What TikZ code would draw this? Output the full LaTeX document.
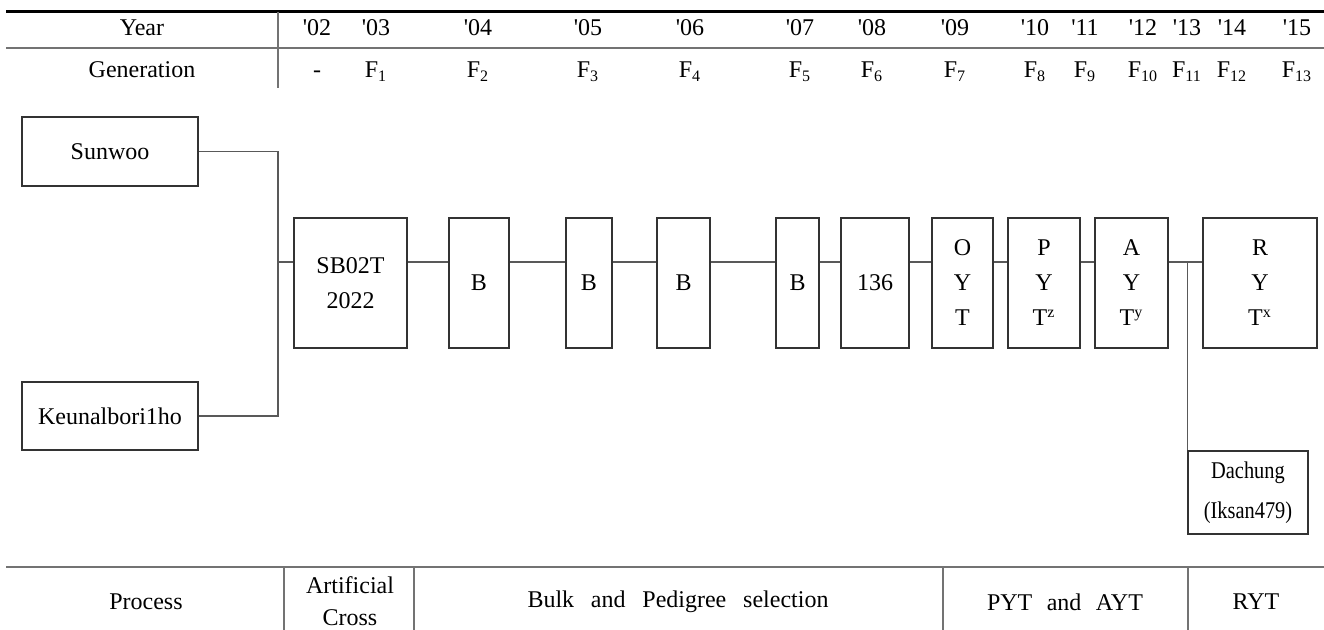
\documentclass[tikz,border=0pt]{standalone}
\usepackage{fontspec}
\usepackage{graphicx}
\setmainfont{Liberation Serif}
\usetikzlibrary{calc}
\tikzset{
  box/.style={draw=black!80, line width=0.6pt, inner sep=0pt, align=center,
    font=\fontsize{12}{17.5}\selectfont},
  link/.style={draw=black!65, line width=0.6pt},
  rule/.style={draw=black!55, line width=0.7pt},
  txt/.style={inner sep=0pt, align=center, font=\fontsize{12}{17.5}\selectfont},
}
\newcommand{\narrow}[1]{\scalebox{0.85}[1]{#1}}
\newcommand{\yr}[1]{\textquotesingle#1}
\begin{document}
\begin{tikzpicture}[x=0.5pt, y=-0.5pt]
\useasboundingbox (0,0) rectangle (1324,630);

% ---- header table ----
\draw[line width=1.5pt] (6,12) -- (1324,12);
\draw[rule] (6,48) -- (1324,48);
\draw[rule] (278,12) -- (278,88);
\node[txt, anchor=base] (hyear) at (142,36) {Year};
\node[txt, anchor=base] (hgen) at (142,78) {Generation};
\foreach \n/\x/\y/\g in {a/317/02/-, b/376/03/F\textsubscript{1}, c/478/04/F\textsubscript{2},
  d/588/05/F\textsubscript{3}, e/690/06/F\textsubscript{4}, f/800/07/F\textsubscript{5},
  g/872/08/F\textsubscript{6}, h/955/09/F\textsubscript{7}, i/1035/10/F\textsubscript{8},
  j/1085/11/F\textsubscript{9}, k/1143/12/F\textsubscript{10}, l/1187/13/F\textsubscript{11},
  m/1232/14/F\textsubscript{12}, o/1297/15/F\textsubscript{13}}{
  \node[txt, anchor=base] (y\n) at (\x,36) {\yr{\y}};
  \node[txt, anchor=base] (g\n) at (\x,78) {\g};
}

% ---- parents ----
\node[box, minimum width=88pt, minimum height=34.5pt] (sun) at (110,151.5) {Sunwoo};
\node[box, minimum width=88pt, minimum height=34pt] (keu) at (110,416) {Keunalbori1ho};

% ---- selection line ----
\node[box, minimum width=56.5pt, minimum height=65pt] (sb) at (350.5,283) {SB02T\\2022};
\node[box, minimum width=30pt, minimum height=65pt] (b1) at (479,283) {B};
\node[box, minimum width=23pt, minimum height=65pt] (b2) at (589,283) {B};
\node[box, minimum width=26.5pt, minimum height=65pt] (b3) at (683.5,283) {B};
\node[box, minimum width=21.5pt, minimum height=65pt] (b4) at (797.5,283) {B};
\node[box, minimum width=34pt, minimum height=65pt] (n136) at (875,283) {136};
\node[box, minimum width=30.5pt, minimum height=65pt] (oyt) at (962.5,283) {O\\Y\\T};
\node[box, minimum width=36pt, minimum height=65pt] (pyt) at (1044,283) {P\\Y\\T\textsuperscript{z}};
\node[box, minimum width=36.5pt, minimum height=65pt] (ayt) at (1131.5,283) {A\\Y\\T\textsuperscript{y}};
\node[box, minimum width=57pt, minimum height=65pt] (ryt) at (1260,283) {R\\Y\\T\textsuperscript{x}};
\node[box, minimum width=60pt, minimum height=41.5pt, font=\fontsize{12}{20}\selectfont]
  (dach) at (1248,492.5) {\raisebox{-2pt}{\narrow{Dachung}}\\\raisebox{-2pt}{\narrow{(Iksan479)}}};

% ---- connectors ----
\coordinate (jx) at (278,0);
\coordinate (jy) at (0,262);
\draw[link] (sun.east) -- (sun.east -| jx) -- (keu.east -| jx) -- (keu.east);
\draw[link] (jx |- jy) -- (sb.west |- jy);
\draw[link] (sb.east |- jy) -- (b1.west |- jy);
\draw[link] (b1.east |- jy) -- (b2.west |- jy);
\draw[link] (b2.east |- jy) -- (b3.west |- jy);
\draw[link] (b3.east |- jy) -- (b4.west |- jy);
\draw[link] (b4.east |- jy) -- (n136.west |- jy);
\draw[link] (n136.east |- jy) -- (oyt.west |- jy);
\draw[link] (oyt.east |- jy) -- (pyt.west |- jy);
\draw[link] (pyt.east |- jy) -- (ayt.west |- jy);
\draw[link] (ayt.east |- jy) -- (ryt.west |- jy);
\draw[link] (dach.north west) -- (dach.north west |- jy);

% ---- process table ----
\draw[rule] (6,567) -- (1324,567);
\foreach \x in {284,414,943,1188} \draw[rule] (\x,567) -- (\x,630);
\node[txt] (pproc) at (146,602) {Process};
\node[txt, font=\fontsize{12}{16}\selectfont] (pcross) at (350,601) {Artificial\\Cross};
\node[txt] (pbulk) at (678,602) {Bulk\hspace{0.7em}and\hspace{0.7em}Pedigree\hspace{0.7em}selection};
\node[txt] (ptest) at (1065,602) {PYT\hspace{0.6em}and\hspace{0.6em}AYT};
\node[txt] (pryt) at (1256,602) {RYT};
\end{tikzpicture}
\end{document}
